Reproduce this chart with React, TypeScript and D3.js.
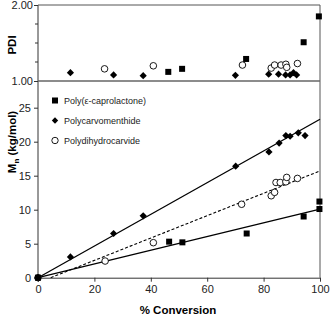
import React, { useRef, useEffect } from 'react';
import * as d3 from 'd3';

// conversion (%) and Mn (kg/mol)
const pclConv = [0, 46.5, 51.2, 74, 94.2, 99.8, 99.8];
const pclMn = [0, 5.3, 5.2, 6.5, 9.0, 10.1, 11.2];
const pcmConv = [0, 11.5, 26.8, 37.3, 70.1, 81.9, 85.5, 87.9, 89.4, 92.3, 94.7];
const pcmMn = [0, 3.05, 6.5, 9.1, 16.4, 18.5, 19.8, 20.9, 20.8, 21.3, 20.9];
const pdhConv = [0, 23.8, 40.9, 72.2, 82.7, 83.9, 84.4, 85.9, 87.9, 88.2, 92];
const pdhMn = [0, 2.45, 5.15, 10.8, 12.05, 12.55, 14.0, 14.0, 14.1, 14.75, 14.6];

// PDI, upper panel
const pclPdiConv = [46.2, 51.1, 73.8, 94.2, 99.6];
const pclPdi = [1.12, 1.16, 1.29, 1.51, 1.85];
const pcmPdiConv = [11.5, 26.8, 37.3, 70, 81.8, 85.3, 87.8, 89.4, 90.6, 91.7];
const pcmPdi = [1.11, 1.08, 1.07, 1.075, 1.09, 1.09, 1.08, 1.08, 1.11, 1.08];
const pdhPdiConv = [23.6, 40.9, 72.5, 82.7, 83.9, 86.2, 87.9, 88.2, 92];
const pdhPdi = [1.16, 1.2, 1.21, 1.17, 1.21, 1.21, 1.22, 1.18, 1.23];

// fitted lines: [conv, Mn] end points
const pclFit = [[0, 0], [100, 10.1]];
const pcmFit = [[0, 0], [100, 23.3]];
const pdhFit = [[4.5, 0], [100, 15.7]];

const xTicks = [0, 20, 40, 60, 80, 100];
const mnTicks = [0, 5, 10, 15, 20, 25];
const pdiTicks = [1, 2];
const pdiMinor = [1.25, 1.5, 1.75];

const legendItems = ['Poly(\u03b5-caprolactone)', 'Polycarvomenthide', 'Polydihydrocarvide'];

const zip = (a: number[], b: number[]) => a.map((v, i) => [v, b[i]] as [number, number]);

const diamondPath = (r: number) => `M0,${-r}L${r},0L0,${r}L${-r},0Z`;

const Chart: React.FC = () => {
  const svgRef = useRef<SVGSVGElement | null>(null);

  useEffect(() => {
    if (!svgRef.current) return;
    const svg = d3.select(svgRef.current);
    svg.selectAll('*').remove();

    const font = 'Arial, "Liberation Sans", sans-serif';
    const left = 38, right = 320;
    const x = d3.scaleLinear().domain([0, 100]).range([left, right]);
    const yMn = d3.scaleLinear().domain([0, 25]).range([277.7, 107.7]);
    const yPdi = d3.scaleLinear().domain([1, 2]).range([81, 5]);
    const top = 5, mid = 81, bottom = 277.7;

    // frame lines
    svg.append('line').attr('x1', left).attr('x2', left).attr('y1', top).attr('y2', bottom)
      .attr('stroke', '#333').attr('stroke-width', 1);
    svg.append('line').attr('x1', right).attr('x2', right).attr('y1', top).attr('y2', bottom)
      .attr('stroke', '#555').attr('stroke-width', 1);
    svg.append('line').attr('x1', left).attr('x2', right).attr('y1', top).attr('y2', top)
      .attr('stroke', '#555').attr('stroke-width', 1);
    svg.append('line').attr('x1', left).attr('x2', right).attr('y1', mid).attr('y2', mid)
      .attr('stroke', '#666').attr('stroke-width', 1.5);

    // x axis
    const gx = svg.append('g').attr('transform', `translate(0,${bottom})`)
      .call(d3.axisBottom(x).tickValues(xTicks).tickSize(4).tickPadding(4).tickSizeOuter(0));
    gx.select('.domain').attr('stroke', '#333');
    gx.selectAll('text').attr('font-size', 11).attr('font-family', font).attr('fill', '#222');
    gx.selectAll('line').attr('stroke', '#333');

    // Mn axis
    const gy = svg.append('g').attr('transform', `translate(${left},0)`)
      .call(d3.axisLeft(yMn).tickValues(mnTicks).tickSize(4).tickPadding(3));
    gy.select('.domain').remove();
    gy.selectAll('text').attr('font-size', 11).attr('font-family', font).attr('fill', '#222');
    gy.selectAll('line').attr('stroke', '#333');

    // PDI axis
    const gp = svg.append('g').attr('transform', `translate(${left},0)`)
      .call(d3.axisLeft(yPdi).tickValues(pdiTicks).tickFormat(d3.format('.2f')).tickSize(4).tickPadding(1));
    gp.select('.domain').remove();
    gp.selectAll('text').attr('font-size', 11).attr('font-family', font).attr('fill', '#222');
    gp.selectAll('line').attr('stroke', '#333');
    svg.append('g').selectAll('line').data(pdiMinor).join('line')
      .attr('x1', left - 3).attr('x2', left).attr('y1', d => yPdi(d)).attr('y2', d => yPdi(d))
      .attr('stroke', '#333');

    // fit lines
    const line = d3.line<number[]>().x(d => x(d[0])).y(d => yMn(d[1]));
    svg.append('path').attr('d', line(pclFit)).attr('stroke', '#000').attr('stroke-width', 1.3).attr('fill', 'none');
    svg.append('path').attr('d', line(pcmFit)).attr('stroke', '#000').attr('stroke-width', 1.3).attr('fill', 'none');
    svg.append('path').attr('d', line(pdhFit)).attr('stroke', '#000').attr('stroke-width', 1.1)
      .attr('stroke-dasharray', '3,2').attr('fill', 'none');

    const squares = (pts: [number, number][], y: d3.ScaleLinear<number, number>) =>
      svg.append('g').selectAll('rect').data(pts).join('rect')
        .attr('x', d => x(d[0]) - 3).attr('y', d => y(d[1]) - 3)
        .attr('width', 6).attr('height', 6).attr('fill', '#000');
    const diamonds = (pts: [number, number][], y: d3.ScaleLinear<number, number>) =>
      svg.append('g').selectAll('path').data(pts).join('path')
        .attr('d', diamondPath(3.6))
        .attr('transform', d => `translate(${x(d[0])},${y(d[1])})`).attr('fill', '#000');
    const circles = (pts: [number, number][], y: d3.ScaleLinear<number, number>) =>
      svg.append('g').selectAll('circle').data(pts).join('circle')
        .attr('cx', d => x(d[0])).attr('cy', d => y(d[1])).attr('r', 3.3)
        .attr('fill', '#fff').attr('stroke', '#000').attr('stroke-width', 0.9);

    circles(zip(pdhConv, pdhMn), yMn);
    squares(zip(pclConv, pclMn), yMn);
    diamonds(zip(pcmConv, pcmMn), yMn);
    circles(zip(pdhPdiConv, pdhPdi), yPdi);
    squares(zip(pclPdiConv, pclPdi), yPdi);
    diamonds(zip(pcmPdiConv, pcmPdi), yPdi);

    // legend
    const lg = svg.append('g');
    legendItems.forEach((name, i) => {
      const cy = 100.5 + i * 20;
      if (i === 0) lg.append('rect').attr('x', 52).attr('y', cy - 3).attr('width', 6).attr('height', 6).attr('fill', '#000');
      if (i === 1) lg.append('path').attr('d', diamondPath(3.2)).attr('transform', `translate(55,${cy})`).attr('fill', '#000');
      if (i === 2) lg.append('circle').attr('cx', 55).attr('cy', cy).attr('r', 3.2).attr('fill', '#fff').attr('stroke', '#000').attr('stroke-width', 0.9);
      lg.append('text').attr('x', 64).attr('y', cy + 3.3).attr('font-size', 9).attr('font-family', font)
        .attr('fill', '#222').text(name);
    });

    // axis titles
    svg.append('text').attr('x', 178).attr('y', 314).attr('text-anchor', 'middle')
      .attr('font-size', 11.5).attr('font-weight', 'bold').attr('font-family', font).text('% Conversion');
    svg.append('text').attr('transform', 'translate(16,45) rotate(-90)').attr('text-anchor', 'middle')
      .attr('font-size', 11.5).attr('font-weight', 'bold').attr('font-family', font).text('PDI');
    const mt = svg.append('text').attr('transform', 'translate(16,142) rotate(-90)').attr('text-anchor', 'middle')
      .attr('font-size', 11.5).attr('font-weight', 'bold').attr('font-family', font);
    mt.append('tspan').text('M');
    mt.append('tspan').attr('font-size', 8).attr('dy', 3).text('n');
    mt.append('tspan').attr('dy', -3).text(' (kg/mol)');

    return () => {
      d3.select(svgRef.current).selectAll('*').remove();
    };
  }, []);

  return <svg ref={svgRef} width={332} height={317} style={{ display: 'block' }}></svg>;
};

export default function App() {
  return (
    <div style={{ position: 'absolute', left: 0, top: 0 }}>
      <Chart />
    </div>
  );
}
